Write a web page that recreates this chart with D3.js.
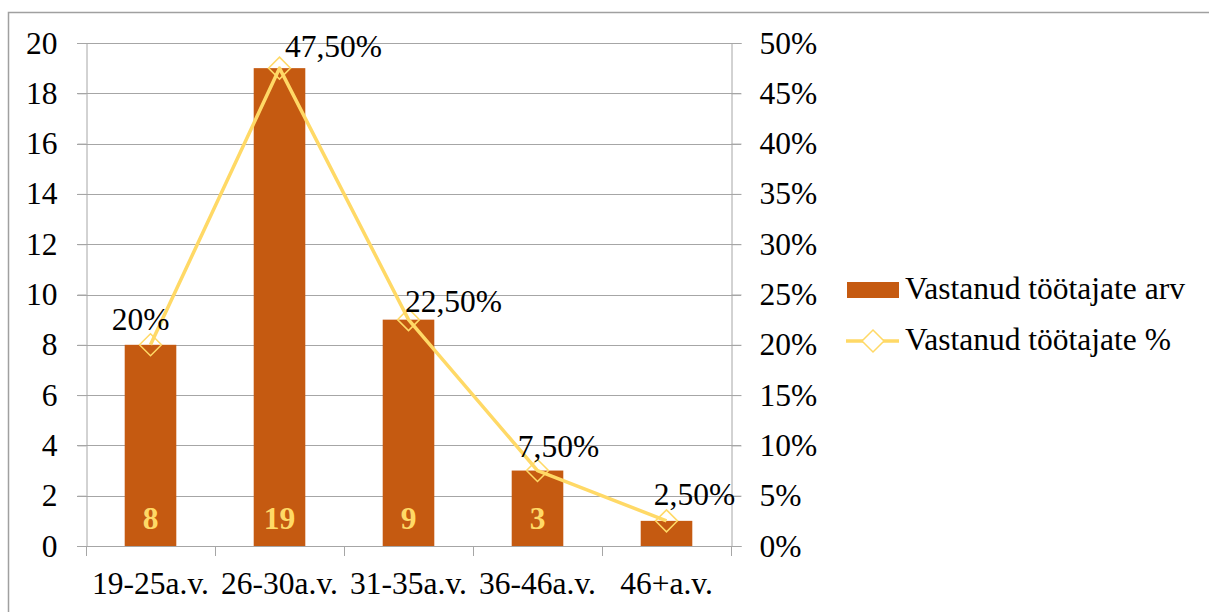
<!DOCTYPE html>
<html>
<head>
<meta charset="utf-8">
<script src="https://cdn.jsdelivr.net/npm/d3@7"></script>
<style>
  html, body { margin: 0; padding: 0; background: #fff; }
  svg { display: block; }
  text { font-family: "Liberation Serif", "Times New Roman", serif; }
</style>
</head>
<body>
<svg id="chart" width="1209" height="612"></svg>
<script>
// Age groups and survey answers
const categories = ["19-25a.v.", "26-30a.v.", "31-35a.v.", "36-46a.v.", "46+a.v."];
const counts = [8, 19, 9, 3, 1];
const countLabels = ["8", "19", "9", "3", ""];
const percents = [0.20, 0.475, 0.225, 0.075, 0.025];
const percentLabels = ["20%", "47,50%", "22,50%", "7,50%", "2,50%"];
const leftTicks = [0, 2, 4, 6, 8, 10, 12, 14, 16, 18, 20];
const rightTicks = [0, 0.05, 0.10, 0.15, 0.20, 0.25, 0.30, 0.35, 0.40, 0.45, 0.50];
const seriesNames = ["Vastanud töötajate arv", "Vastanud töötajate %"];

// Offsets of the percentage labels relative to their markers
const pctLabelOffset = [[-10, -15], [54, -11], [45, -8], [21, -14], [28, -16]];

const barColor = "#C55A11";
const lineColor = "#FFD966";
const gridColor = "#A6A6A6";
const fontSize = 31.5;
const serif = "'Liberation Serif', 'Times New Roman', serif";

const svg = d3.select("#chart");

// Outer frame
svg.append("rect")
  .attr("x", 8.5).attr("y", 12.5)
  .attr("width", 1300).attr("height", 700)
  .attr("fill", "none").attr("stroke", "#A0A0A0").attr("stroke-width", 1.5);

const plot = { left: 86, right: 731, top: 43, bottom: 546 };

const x = d3.scaleBand().domain(categories)
  .range([plot.left, plot.right]).paddingInner(0.6).paddingOuter(0.3);
const xCenter = c => x(c) + x.bandwidth() / 2;
const yL = d3.scaleLinear().domain([0, 20]).range([plot.bottom, plot.top]);
const yR = d3.scaleLinear().domain([0, 0.5]).range([plot.bottom, plot.top]);

// Horizontal gridlines (run across both axis tick marks)
svg.append("g").selectAll("line").data(leftTicks).join("line")
  .attr("x1", plot.left - 9).attr("x2", plot.right + 10)
  .attr("y1", d => Math.round(yL(d)) + 0.5).attr("y2", d => Math.round(yL(d)) + 0.5)
  .attr("stroke", gridColor).attr("stroke-width", 1);

// Left axis
const leftAxis = svg.append("g")
  .attr("transform", `translate(${plot.left + 0.5},0)`)
  .call(d3.axisLeft(yL).tickValues(leftTicks).tickSize(9).tickPadding(20)
    .tickFormat(d3.format("d")));
leftAxis.attr("font-family", serif);
leftAxis.select(".domain").attr("stroke", gridColor);
leftAxis.selectAll(".tick line").attr("stroke", gridColor);
leftAxis.selectAll("text").attr("font-size", fontSize).attr("fill", "#000");

// Right axis
const rightAxis = svg.append("g")
  .attr("transform", `translate(${plot.right + 0.5},0)`)
  .call(d3.axisRight(yR).tickValues(rightTicks).tickSize(10).tickPadding(18)
    .tickFormat(d3.format(".0%")));
rightAxis.attr("font-family", serif);
rightAxis.select(".domain").attr("stroke", gridColor);
rightAxis.selectAll(".tick line").attr("stroke", gridColor);
rightAxis.selectAll("text").attr("font-size", fontSize).attr("fill", "#000");

// Bottom axis with tick marks between categories
const bottom = svg.append("g");
bottom.append("line")
  .attr("x1", plot.left).attr("x2", plot.right)
  .attr("y1", plot.bottom + 0.5).attr("y2", plot.bottom + 0.5)
  .attr("stroke", gridColor);
const boundaries = d3.range(categories.length + 1).map(i => plot.left + i * (plot.right - plot.left) / categories.length);
bottom.selectAll("line.tk").data(boundaries).join("line").attr("class", "tk")
  .attr("x1", d => Math.round(d) + 0.5).attr("x2", d => Math.round(d) + 0.5)
  .attr("y1", plot.bottom).attr("y2", plot.bottom + 10)
  .attr("stroke", gridColor);
bottom.selectAll("text").data(categories).join("text")
  .attr("x", d => xCenter(d)).attr("y", plot.bottom + 48)
  .attr("text-anchor", "middle").attr("font-size", fontSize).attr("fill", "#000")
  .text(d => d);

// Bars
svg.append("g").selectAll("rect").data(counts).join("rect")
  .attr("x", (d, i) => x(categories[i]))
  .attr("width", x.bandwidth())
  .attr("y", d => yL(d))
  .attr("height", d => yL(0) - yL(d))
  .attr("fill", barColor);

// Count labels inside the bars
svg.append("g").selectAll("text").data(counts).join("text")
  .attr("x", (d, i) => xCenter(categories[i]))
  .attr("y", plot.bottom - 17)
  .attr("text-anchor", "middle")
  .attr("font-size", fontSize).attr("font-weight", "bold")
  .attr("fill", lineColor)
  .text((d, i) => countLabels[i]);

// Percentage line
const line = d3.line()
  .x((d, i) => xCenter(categories[i]))
  .y(d => yR(d));
svg.append("path").datum(percents)
  .attr("d", line)
  .attr("fill", "none").attr("stroke", lineColor)
  .attr("stroke-width", 3.5).attr("stroke-linejoin", "round");

// Diamond markers
const dSize = 11;
svg.append("g").selectAll("path").data(percents).join("path")
  .attr("d", (d, i) => {
    const cx = xCenter(categories[i]), cy = yR(d);
    return `M${cx},${cy - dSize}L${cx + dSize},${cy}L${cx},${cy + dSize}L${cx - dSize},${cy}Z`;
  })
  .attr("fill", "none").attr("stroke", lineColor).attr("stroke-width", 1.5);

// Percentage labels
svg.append("g").selectAll("text").data(percents).join("text")
  .attr("x", (d, i) => xCenter(categories[i]) + pctLabelOffset[i][0])
  .attr("y", (d, i) => yR(d) + pctLabelOffset[i][1])
  .attr("text-anchor", "middle")
  .attr("font-size", fontSize).attr("fill", "#000")
  .text((d, i) => percentLabels[i]);

// Legend
const legend = svg.append("g");
legend.append("rect")
  .attr("x", 847).attr("y", 282).attr("width", 52).attr("height", 16)
  .attr("fill", barColor);
legend.append("text")
  .attr("x", 905).attr("y", 299).attr("font-size", fontSize).attr("fill", "#000")
  .text(seriesNames[0]);
legend.append("line")
  .attr("x1", 846).attr("x2", 899).attr("y1", 341).attr("y2", 341)
  .attr("stroke", lineColor).attr("stroke-width", 3.5);
legend.append("path")
  .attr("d", `M873,${341 - dSize}L${873 + dSize},341L873,${341 + dSize}L${873 - dSize},341Z`)
  .attr("fill", "#fff").attr("stroke", lineColor).attr("stroke-width", 1.5);
legend.append("text")
  .attr("x", 905).attr("y", 350).attr("font-size", fontSize).attr("fill", "#000")
  .text(seriesNames[1]);
</script>
</body>
</html>
